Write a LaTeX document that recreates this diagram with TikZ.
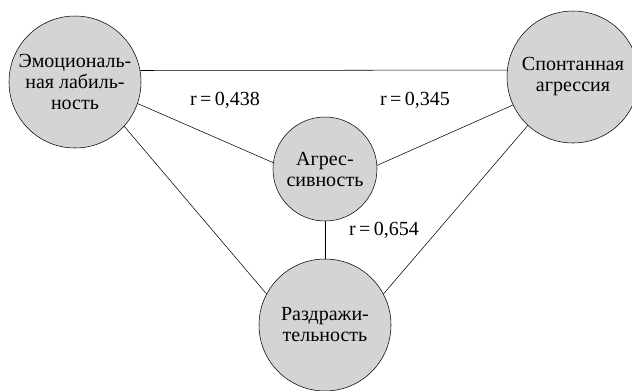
\documentclass[tikz,border=0pt]{standalone}
\usepackage{fontspec}
\setmainfont{Liberation Serif}
\usepackage{tikz}

\begin{document}
\begin{tikzpicture}[
  x=0.75pt, y=-0.75pt,
  bnode/.style={draw,circle,fill=black!17,minimum size=99pt,inner sep=0pt,align=center,font=\fontsize{15}{15.75}\selectfont},
  mnode/.style={draw,circle,fill=black!17,minimum size=78pt,inner sep=0pt,align=center,font=\fontsize{15}{15.75}\selectfont},
  rlabel/.style={inner sep=0pt,font=\fontsize{15}{15.75}\selectfont}
]
  \useasboundingbox (0,0) rectangle (632,390);

  % factors
  \node[bnode] (emo) at (75,82) {Эмоциональ-\\ная лабиль-\\ность};
  \node[bnode] (spont) at (573,77) {Спонтанная\\агрессия};
  \node[mnode] (aggr) at (325,169) {Агрес-\\сивность};
  \node[bnode] (irr) at (325,325) {Раздражи-\\тельность};

  % links
  \draw (emo.10) -- (spont.174);
  \draw (emo.-19) -- (aggr.173);
  \draw (aggr.4) -- (spont.-155);
  \draw (aggr.-90) -- (irr.90);
  \draw (emo.-42) -- (irr.152);
  \draw (spont.-133) -- (irr.28);

  % correlations
  \node[rlabel] (r1) at (225,100) {r\,=\,0,438};
  \node[rlabel] (r2) at (415,100) {r\,=\,0,345};
  \node[rlabel] (r3) at (384,230) {r\,=\,0,654};

\end{tikzpicture}
\end{document}
